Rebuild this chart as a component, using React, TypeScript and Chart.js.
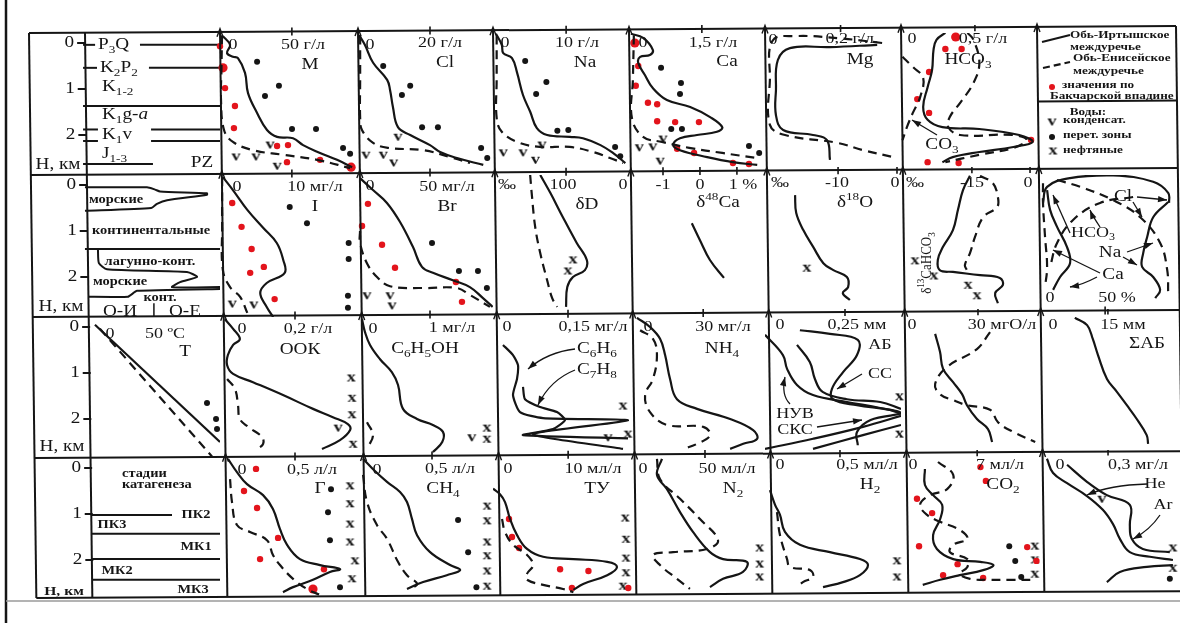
import { useEffect, useRef } from "react";
import { Chart, registerables } from "chart.js";

Chart.register(...registerables);

type Pt = [number, number]; // [quantity, depth below surface, km]

// ---------------- Row 1: mineralisation and major ions ----------------
const mIrtysh: Pt[] = [[2, -0.15], [7, 0.04], [4.9, 0.22], [9, 0.3], [12.5, 0.33], [17.4, 0.65], [19.5, 1.09], [25.8, 1.52], [32.7, 1.89], [39.7, 2.04], [50.8, 2.07], [57.8, 2.22], [69.6, 2.39], [81.4, 2.54], [91.9, 2.7]];
const mEnisei: Pt[] = [[1.4, -0.17], [1, 0.6], [0.7, 1.24], [2.8, 1.89], [9, 2.15], [23, 2.33], [43.8, 2.43], [67.5, 2.54], [90.5, 2.72]];
const mBakchar: Pt[] = [[0, 0.07], [3.5, 0.98], [10.4, 1.37], [9.7, 1.85], [39.7, 2.24], [47.3, 2.22], [46.6, 2.59], [69.6, 2.54]];
const mBakcharBig: Pt[] = [[2.1, 0.54], [91.2, 2.7]];
const mTransit: Pt[] = [[25.8, 0.41], [41, 0.93], [31.3, 1.15], [50.1, 1.87], [66.8, 1.87], [85.6, 2.28], [90.5, 2.41]];
const mCondensate: Pt[] = [[11.1, 2.5], [25, 2.5], [34.8, 2.24], [39.7, 2.7]];

const clIrtysh: Pt[] = [[0.3, -0.17], [1.9, 0.04], [4.2, 0.43], [8.1, 0.8], [8.9, 1.02], [9.7, 1.39], [11.1, 1.83], [14.5, 2.0], [20, 2.22], [22.8, 2.37], [27.5, 2.5], [34.8, 2.65]];
const clEnisei: Pt[] = [[0.6, -0.17], [0.6, 0.8], [0.6, 1.63], [1.1, 1.89], [4.2, 2.17], [8.3, 2.28], [18.1, 2.33], [25.6, 2.48], [31.1, 2.61]];
const clTransit: Pt[] = [[7, 0.5], [12.2, 1.13], [14.5, 0.93], [17.8, 1.83], [22.2, 1.83], [34.2, 2.28], [35.9, 2.5]];
const clCondensate: Pt[] = [[2.2, 2.46], [7, 2.46], [9.9, 2.63], [11.1, 2.07]];

const naIrtysh: Pt[] = [[0.4, -0.2], [1.2, 0.04], [1.4, 0.22], [2.6, 0.33], [3.3, 0.65], [4.1, 1.13], [5.1, 1.5], [6.0, 1.85], [7.4, 2.0], [10.5, 2.04], [12.3, 2.07], [14.7, 2.22], [16.4, 2.39], [18.1, 2.61]];
const naEnisei: Pt[] = [[0.5, -0.17], [0.5, 0.8], [0.5, 1.63], [1.2, 1.93], [3.3, 2.15], [6.4, 2.26], [10.5, 2.26], [13.7, 2.37], [16, 2.5], [17.8, 2.61]];
const naTransit: Pt[] = [[4.4, 0.39], [7.3, 0.85], [5.9, 1.11], [8.8, 1.91], [10.3, 1.89], [16.7, 2.26], [17.4, 2.46]];
const naCondensate: Pt[] = [[1.4, 2.41], [4.1, 2.41], [5.8, 2.57], [6.7, 2.24]];

const caIrtysh: Pt[] = [[0.04, -0.2], [0.29, -0.11], [0.49, 0.15], [0.43, 0.26], [0.23, 0.3], [0.19, 0.43], [0.33, 0.7], [0.49, 0.98], [0.78, 1.24], [1.26, 1.39], [1.67, 1.61], [1.92, 1.83], [1.81, 1.93], [1.4, 2.0], [1.05, 2.07], [0.91, 2.22], [1.05, 2.33], [1.61, 2.48], [2.14, 2.59], [2.64, 2.65]];
const caEnisei: Pt[] = [[0.1, -0.17], [0.08, 0.8], [0.06, 1.63], [0.29, 2.04], [0.68, 2.15], [1.24, 2.28], [1.92, 2.39], [2.62, 2.5]];
const caBakchar: Pt[] = [[0.19, 0.5], [0.14, 0.93], [0.39, 1.3], [0.58, 1.33], [0.58, 1.7], [0.95, 1.72], [1.44, 1.72], [0.99, 2.3], [1.34, 2.39], [2.14, 2.61], [2.47, 2.63]];
const caBakcharBig: Pt[] = [[0.12, 0]];
const caTransit: Pt[] = [[0.66, 0.54], [1.07, 0.87], [1.05, 1.11], [0.87, 1.87], [1.09, 1.87], [2.47, 2.24], [2.68, 2.39]];
const caCondensate: Pt[] = [[0.21, 2.3], [0.49, 2.28], [0.64, 2.59], [0.7, 2.11]];

const mgIrtysh: Pt[] = [[0.297, 0.04], [0.172, 0.09], [0.066, 0.11], [0.034, 0.37], [0.029, 1.02], [0.029, 1.57], [0.048, 1.89], [0.127, 2.0], [0.164, 2.11], [0.172, 2.54]];
const mgEnisei: Pt[] = [[0.31, 0.0], [0.2, -0.1], [0.08, -0.15], [0.02, -0.05], [0.013, 0.8], [0.013, 1.78], [0.053, 2.0], [0.191, 2.17], [0.26, 2.33], [0.339, 2.48]];

const hco3Irtysh: Pt[] = [[0.3, -0.22], [0.24, -0.07], [0.22, 0.15], [0.21, 0.59], [0.18, 0.96], [0.15, 1.39], [0.18, 1.67], [0.28, 1.83], [0.53, 1.87], [0.8, 2.0], [0.89, 2.15], [0.76, 2.26], [0.53, 2.37], [0.35, 2.48], [0.28, 2.59]];
const hco3Enisei: Pt[] = [[0.45, -0.22], [0.49, -0.07], [0.53, 0.43], [0.49, 0.87], [0.4, 1.3], [0.33, 1.61], [0.32, 1.83], [0.4, 2.0], [0.76, 2.0], [0.85, 2.11], [0.76, 2.28], [0.53, 2.43], [0.3, 2.59]];
const co3Enisei: Pt[] = [[0.01, 0.3], [0.08, 0.52], [0.15, 0.76], [0.13, 1.17], [0.08, 1.52], [0.04, 1.83], [0.01, 2.11]];
const hco3Bakchar: Pt[] = [[0.3, 0.13], [0.41, 0.13], [0.19, 0.63], [0.11, 1.22], [0.19, 1.52], [0.88, 2.11], [0.18, 2.59], [0.39, 2.61]];
const hco3BakcharBig: Pt[] = [[0.37, -0.13]];

// ---------------- Row 2: I, Br and isotopes ----------------
const iIrtysh: Pt[] = [[0.4, -0.17], [1.8, 0.11], [3.8, 0.54], [6.0, 0.93], [7.9, 1.26], [8.8, 1.63], [9.0, 1.91], [6.5, 2.13], [5.6, 2.35], [6.5, 2.65], [7.4, 2.87]];
const iEnisei: Pt[] = [[0.3, -0.17], [0.3, 0.9], [0.4, 1.85], [1.4, 2.22], [2.8, 2.43], [3.8, 2.78]];
const iBakchar: Pt[] = [[1.7, 0.39], [3.0, 0.91], [4.4, 1.39], [4.2, 1.91], [6.1, 1.78], [7.6, 2.48]];
const iTransit: Pt[] = [[9.7, 0.48], [12.1, 0.83], [17.9, 1.26], [17.9, 1.61], [17.8, 2.41], [17.8, 2.67]];
const iCondensate: Pt[] = [[1.7, 2.61], [4.7, 2.63]];

const brIrtysh: Pt[] = [[1.4, -0.15], [10.4, 0.11], [20.1, 0.39], [29.1, 0.8], [38.2, 1.35], [44.4, 1.78], [52, 1.91], [65.9, 2.07], [77.7, 2.22], [86.8, 2.46], [93.5, 2.65]];
const brEnisei: Pt[] = [[1.4, 1.0], [1.4, 1.26], [6.2, 1.7], [13.2, 2.0], [22.2, 2.2], [45.1, 2.24], [68.7, 2.24], [77.7, 2.39], [91.6, 2.65]];
const brBakchar: Pt[] = [[6.9, 0.41], [2.8, 0.89], [16.7, 1.3], [25.7, 1.8], [68, 2.11], [72.2, 2.54]];
const brTransit: Pt[] = [[51.4, 1.26], [70.1, 1.87], [83.3, 1.87], [89.5, 2.24]];
const brCondensate: Pt[] = [[6.2, 2.43], [22.2, 2.43], [23.6, 2.65]];

const dDIrtysh: Pt[] = [[-141, -0.22], [-125, 0.17], [-105, 0.7], [-83, 1.26], [-67, 1.63], [-70, 1.85], [-89, 2.0], [-98, 2.22], [-100, 2.65]];
const dDEnisei: Pt[] = [[-157, -0.22], [-154, 0.26], [-149, 0.91], [-141, 1.48], [-130, 2.07], [-122, 2.46], [-114, 2.65]];
const dDOil: Pt[] = [[-89, 1.65], [-97, 1.89]];

const d48CaIrtysh: Pt[] = [[-0.22, 0.83], [0, 1.2], [0.27, 1.63], [0.65, 2.02]];

const d18OIrtysh: Pt[] = [[-17.3, 0.22], [-17.1, 0.61], [-15.9, 0.98], [-14.2, 1.35], [-12.5, 1.7], [-10.8, 1.85], [-8.5, 2.0], [-8.3, 2.22], [-9.2, 2.35], [-8.0, 2.5]];
const d18OOil: Pt[] = [[-15.3, 1.83]];

const d13CIrtysh: Pt[] = [[-15.5, -0.2], [-17.3, 0.11], [-18.6, 0.54], [-19.9, 0.98], [-22.5, 1.35], [-23.8, 1.63], [-23.3, 1.85], [-19.9, 1.89], [-12.9, 1.96], [-7.8, 2.02], [-7.0, 2.17], [-9.0, 2.35], [-8.3, 2.57]];
const d13CEnisei: Pt[] = [[-12.9, -0.2], [-9.6, -0.04], [-8.3, 0.26], [-8.5, 0.48], [-12.1, 0.7], [-14.2, 1.13], [-15.5, 1.48], [-16.8, 1.74], [-16.3, 1.85]];
const d13COil: Pt[] = [[-29.7, 1.67], [-24.8, 2.0], [-16, 2.2], [-13.7, 2.43]];

// ion shares, % eq
const ionIrtyshA: Pt[] = [[1.7, 0.11], [4.2, 0.54], [10, 0.91], [18.3, 1.35], [20.8, 1.7], [12.5, 2.0], [6.7, 2.28]];
const ionIrtyshB: Pt[] = [[-1.7, 0.39], [1.7, 0.04], [20.8, -0.15], [56.7, -0.21], [90, -0.07], [102.5, 0.17], [103.3, 0.39]];
const ionIrtyshC: Pt[] = [[102.5, 0.37], [90, 0.7], [85, 1.13], [81.7, 1.48], [80.8, 1.78], [90, 2.0], [95.8, 2.28], [91.7, 2.46]];
const ionEniseiA: Pt[] = [[-1.7, -0.04], [-1.7, 0.39], [0, 1.13], [1.7, 1.78], [0, 2.22]];
const ionEniseiB: Pt[] = [[10, -0.11], [29.2, 0.04], [56.7, 0.33], [79.2, 0.7], [95.8, 1.26], [101.7, 1.85], [102.5, 2.35]];
const ionEniseiC: Pt[] = [[73.3, 0.26], [45.8, 0.39], [23.3, 0.76], [10, 1.26], [4.2, 1.78]];

// ---------------- Row 3: temperature, organics, bitumoids ----------------
const tIrtysh: Pt[] = [[-1, -0.05], [100, 2.5]];
const tEnisei: Pt[] = [[3, 0.04], [94, 2.83]];
const tTransit: Pt[] = [[89.5, 1.65], [96.8, 2.0], [97.6, 2.22]];

const ookIrtysh: Pt[] = [[0.013, -0.17], [0.035, 0.04], [0.053, 0.26], [0.035, 0.39], [0.021, 0.61], [0.019, 0.83], [0.035, 1.02], [0.088, 1.2], [0.168, 1.48], [0.248, 1.78], [0.301, 1.96], [0.341, 2.11], [0.347, 2.24], [0.32, 2.46], [0.272, 2.65]];
const ookEnisei: Pt[] = [[0.019, 1.13], [0.04, 1.35], [0.048, 1.7], [0.053, 2.0], [0.075, 2.17], [0.112, 2.39], [0.115, 2.54], [0.101, 2.65]];
const ookOil: Pt[] = [[0.35, 1.13], [0.352, 1.57], [0.352, 1.93], [0.355, 2.57]];
const ookCondensate: Pt[] = [[0.315, 2.22]];

const phenolIrtysh: Pt[] = [[0.056, -0.17], [0.097, 0.11], [0.167, 0.39], [0.306, 0.7], [0.47, 0.98], [0.556, 1.26], [0.625, 1.78], [0.82, 2.0], [1.04, 2.13], [1.18, 2.28], [1.17, 2.5], [1.04, 2.72]];
const phenolEnisei: Pt[] = [[0.125, 2.07], [0.208, 2.35], [0.139, 2.61]];
const phenolCondensate: Pt[] = [[1.58, 2.43]];
const phenolOil: Pt[] = [[1.79, 2.22], [1.79, 2.46]];

const benzene: Pt[] = [[0.02, 0.39], [0.04, 0.61], [0.05, 0.83], [0.048, 1.13], [0.04, 1.48], [0.054, 1.85], [0.1, 1.98], [0.27, 2.03], [0.08, 2.33], [0.26, 2.65]];
const toluene: Pt[] = [[0.06, 1.3], [0.064, 1.57], [0.094, 1.74], [0.128, 1.85], [0.144, 2.02], [0.12, 2.22], [0.06, 2.35], [0.27, 2.42]];
const aromOil: Pt[] = [[0.26, 1.74], [0.27, 2.35]];
const aromCondensate: Pt[] = [[0.23, 2.43]];

const nh4Irtysh: Pt[] = [[3.2, -0.2], [8.5, 0], [12.6, 0.26], [14.6, 0.61], [16.6, 1.13], [19.4, 1.57], [27.5, 1.78], [40.9, 2.0], [50.2, 2.24], [51.8, 2.43], [46.2, 2.54], [40.9, 2.65]];
const nh4Enisei: Pt[] = [[4.5, 0.07], [9.7, 0.26], [11.3, 0.61], [9.7, 1.13], [6.5, 1.48], [8.5, 1.85], [15.4, 2.13], [30, 2.17], [32.8, 2.35], [27.5, 2.54], [21.9, 2.65]];

// bitumoid fractions, mm
const abTotal: Pt[] = [[0.109, 0.07], [0.203, 0.15], [0.29, 0.28], [0.2875, 0.61], [0.244, 0.98], [0.209, 1.35], [0.2125, 1.57], [0.2875, 1.7], [0.39, 1.8], [0.425, 1.89]];
const abCC: Pt[] = [[0.1, 0.39], [0.14, 0.76], [0.156, 1.13], [0.18, 1.41], [0.256, 1.57], [0.36, 1.63], [0.425, 1.78]];
const abNUV: Pt[] = [[0, 0.17], [0.056, 0.61], [0.069, 0.91], [0.1, 1.26], [0.15, 1.48], [0.256, 1.63], [0.36, 1.76], [0.425, 1.87], [0.33, 2.02], [0.2875, 2.28], [0.29, 2.57]];
const abSKS: Pt[] = [[0, 2.65], [0.15, 2.43], [0.306, 2.17], [0.425, 1.93]];
const abLower: Pt[] = [[0.15, 2.65], [0.306, 2.35], [0.425, 2.13]];
const abOil: Pt[] = [[0.42, 1.54], [0.42, 2.35]];

const poIrtysh: Pt[] = [[13.3, 0.15], [15.2, 0.54], [16.4, 0.91], [20.3, 1.2], [23.8, 1.46], [25.7, 1.7], [29.6, 2.0], [33.9, 2.22], [35.5, 2.5]];
const poEnisei: Pt[] = [[34.7, 0.11], [29.6, 0.48], [17.9, 0.87], [13.3, 1.24], [15.2, 1.46], [20.3, 1.59], [25.7, 1.7], [34.7, 1.8], [37.8, 2.07], [43.7, 2.28], [52.3, 2.5]];

const sumAB: Pt[] = [[8.0, -0.2], [10.6, -0.04], [11.8, 0.26], [12.9, 0.61], [14.8, 1.13], [16.9, 1.41], [19, 1.7], [21.1, 2.0], [23.2, 2.35], [23.5, 2.54]];

// ---------------- Row 4: dissolved gases ----------------
const gIrtysh: Pt[] = [[0.053, -0.2], [0.113, 0.09], [0.18, 0.35], [0.287, 0.59], [0.353, 0.89], [0.4, 1.33], [0.447, 1.67], [0.533, 1.98], [0.667, 2.11], [0.8, 2.2], [0.733, 2.26], [0.62, 2.43], [0.487, 2.59], [0.42, 2.7]];
const gEnisei: Pt[] = [[0.067, 0.24], [0.08, 0.74], [0.113, 1.24], [0.2, 1.39], [0.313, 1.57], [0.353, 1.89], [0.4, 2.11], [0.487, 2.41], [0.58, 2.63], [0.667, 2.76]];
const gBakchar: Pt[] = [[0.24, 0.02], [0.16, 0.5], [0.247, 0.87], [0.387, 1.52], [0.267, 1.98], [0.693, 2.2]];
const gBakcharBig: Pt[] = [[0.62, 2.63]];
const gTransit: Pt[] = [[0.74, 0.46], [0.72, 0.96], [0.733, 1.57], [0.8, 2.59]];
const gOil: Pt[] = [[0.867, 0.41], [0.867, 0.8], [0.867, 1.24], [0.867, 1.63], [0.9, 2.04], [0.88, 2.43]];

const ch4Irtysh: Pt[] = [[0.034, -0.2], [0.1, 0.02], [0.196, 0.3], [0.284, 0.52], [0.331, 0.74], [0.365, 1.11], [0.399, 1.46], [0.487, 1.83], [0.622, 2.11], [0.69, 2.22], [0.6, 2.33], [0.44, 2.48], [0.331, 2.63]];
const ch4Enisei: Pt[] = [[0.034, 0.15], [0.061, 0.74], [0.128, 1.24], [0.196, 1.54], [0.27, 2.04], [0.331, 2.33], [0.399, 2.52], [0.35, 2.63]];
const ch4Transit: Pt[] = [[0.676, 1.13], [0.744, 1.83], [0.8, 2.59]];
const ch4Oil: Pt[] = [[0.872, 0.85], [0.872, 1.17], [0.872, 1.63], [0.872, 1.93], [0.872, 2.26], [0.872, 2.59]];

const tuIrtysh: Pt[] = [[0, 0.45], [0.93, 0.57], [1.6, 0.74], [2.27, 1.11], [3.2, 1.46], [4.53, 1.76], [6.67, 1.93], [10.7, 1.98], [15.2, 2.04], [16.5, 2.15], [15.2, 2.33], [12, 2.52], [10.7, 2.65]];
const tuEnisei: Pt[] = [[1.2, 1.11], [1.6, 1.39], [2.67, 1.67], [4.53, 1.89], [5.33, 2.11], [4.53, 2.3], [4.53, 2.43], [6.67, 2.54], [9.33, 2.63], [10.7, 2.7]];
const tuBakchar: Pt[] = [[2.13, 1.11], [2.53, 1.5], [3.47, 1.74], [8.93, 2.2], [12.7, 2.24], [10.5, 2.61], [18.0, 2.61]];
const tuOil: Pt[] = [[17.6, 1.11], [17.7, 1.57], [17.7, 1.98], [17.7, 2.3], [17.3, 2.59]];

const n2Irtysh: Pt[] = [[21.7, -0.2], [18.4, 0.15], [25, 0.46], [33.6, 0.96], [42.1, 1.39], [53.3, 1.83], [61.9, 1.98], [77.6, 2.04], [75, 2.26], [61.9, 2.41], [53.3, 2.59]];
const n2Enisei: Pt[] = [[18.4, -0.2], [20.4, 0.24], [33.6, 0.67], [46.7, 1.11], [58.6, 1.57], [51.3, 1.76], [29, 1.83], [15.8, 1.89], [20.4, 2.11], [31.6, 2.41], [40.1, 2.63]];
const n2Oil: Pt[] = [[86, 1.76], [86, 2.11], [86, 2.39]];

const h2Irtysh: Pt[] = [[0.033, 0.48], [0.067, 0.8], [0.1, 1.02], [0.133, 1.39], [0.233, 1.67], [0.433, 1.83], [0.633, 1.98], [0.687, 2.11], [0.633, 2.33], [0.52, 2.48], [0.387, 2.59]];
const h2Enisei: Pt[] = [[0.08, 0.96], [0.1, 1.46], [0.147, 1.98], [0.167, 2.15], [0.3, 2.22], [0.32, 2.37], [0.253, 2.48], [0.213, 2.59]];
const h2Oil: Pt[] = [[0.88, 2.04], [0.88, 2.39]];

const co2Irtysh: Pt[] = [[2.2, 0.02], [2.2, 0.37], [2.95, 0.59], [3.78, 0.8], [3.6, 1.11], [2.95, 1.46], [3.3, 1.76], [4.8, 1.98], [7.3, 2.04], [8.5, 2.11], [7.55, 2.22], [5.4, 2.33], [3.6, 2.43], [2.0, 2.54]];
const co2Enisei: Pt[] = [[3.4, -0.13], [4.8, 0.15], [4.24, 0.46], [2.67, 0.59], [1.75, 0.8], [2.4, 1.02], [3.6, 1.17], [5.43, 1.35], [6.1, 1.54], [4.8, 1.67], [4.5, 1.83], [6.1, 1.98], [6.1, 2.15], [5.43, 2.3], [6.35, 2.41], [7.9, 2.43], [10.3, 2.43], [12.2, 2.43]];
const co2Bakchar: Pt[] = [[7.3, -0.02], [7.8, 0.28], [1.47, 0.67], [2.86, 0.98], [1.66, 1.7], [5.2, 2.09], [3.87, 2.33], [7.55, 2.39], [11.6, 1.72], [12.45, 2.02]];
const co2Transit: Pt[] = [[9.95, 1.7], [10.5, 2.02], [11.05, 2.37]];
const co2Oil: Pt[] = [[12.3, 1.72], [12.3, 2.02], [12.3, 2.33]];

const heProfile: Pt[] = [[0.042, -0.2], [0.068, 0.11], [0.127, 0.33], [0.211, 0.61], [0.278, 0.91], [0.321, 1.22], [0.35, 1.54], [0.392, 1.83], [0.477, 1.93], [0.574, 2.0]];
const arProfile: Pt[] = [[0.127, -0.07], [0.211, 0.3], [0.295, 0.59], [0.392, 0.8], [0.392, 1.24], [0.4, 1.54], [0.447, 1.76], [0.561, 1.83]];
const heLower: Pt[] = [[0.295, 2.48], [0.35, 2.26], [0.464, 2.15], [0.574, 2.11]];
const heCondensate: Pt[] = [[0.274, 0.7]];
const heOil: Pt[] = [[0.574, 1.76], [0.574, 2.2]];
const heTransit: Pt[] = [[0.561, 2.41]];

// ---------------- Left column: section, facies, catagenesis ----------------
const stratTops = [0.04, 0.54, 1.37, 1.88, 2.13, 2.63];
const stratNames = ["P_3Q", "K_2P_2", "K_{1-2}", "K_1g-~a", "K_1v", "J_{1-3}", "PZ"];
// outlines as [share of column width, depth]
const faciesMarineUpper: Pt[] = [[0.293, 0.05], [0.618, 0.05], [0.66, 0.1], [0.686, 0.14], [0.932, 0.18], [0.932, 0.21], [0.723, 0.33], [0.67, 0.41], [0.64, 0.5], [0.293, 0.56]];
const faciesContBase: Pt[] = [[0.293, 1.39], [1, 1.39]];
const faciesLagoon: Pt[] = [[0.361, 1.41], [0.366, 1.7], [0.408, 1.83], [0.827, 1.89], [0.88, 2.0], [0.791, 2.11], [0.749, 2.22], [1, 2.22]];
const faciesMarineLower: Pt[] = [[0.309, 2.43], [0.518, 2.43], [0.565, 2.3], [1, 2.26]];
const regionDivide: Pt[] = [[0.654, 2.57], [0.654, 2.9]];
const stageTops = [1.02, 1.43, 1.98, 2.43];

// ---------------- drawing ----------------
const INK = "#151515";
const RED = "#e3141c";
const SERIF = '"Liberation Serif", "DejaVu Serif", "Times New Roman", serif';
const SX = 1.2; // lettering is set a little wide
const PAD = 8;
const KM = 46; // px per km of depth
const ORG_X = 29;
const ORG_Y = 33;
const SKEW_X = 0.013;
const SKEW_Y = -0.006;

const COLS = [220, 358, 493, 629, 765, 901, 1037, 1176];
const ROWS = [33, 175, 317, 458, 598];

interface Curve { pts: Pt[]; dash?: boolean; w?: number; k?: number }
interface Txt { dx: number; dy: number; s: string; size?: number; bold?: boolean; align?: "left" | "center" | "right"; rot?: boolean }
interface PanelDef {
  x: number; y: number; w: number; h: number;
  xr: [number, number];
  curves?: Curve[];
  red?: Pt[]; redBig?: Pt[]; dots?: Pt[]; vs?: Pt[]; xs?: Pt[];
  ticks?: number[]; bottomTicks?: number[];
  texts?: Txt[];
  arrows?: number[][];
  axisX?: number;
  legend?: boolean;
}

const cell = (r: number, c: number) => ({ x: COLS[c], y: ROWS[r], w: COLS[c + 1] - COLS[c], h: ROWS[r + 1] - ROWS[r] });
const T = (dx: number, dy: number, s: string, size = 15, extra: Partial<Txt> = {}): Txt => ({ dx, dy, s, size, ...extra });
const B = (dx: number, dy: number, s: string, size = 11, align: "left" | "center" = "left"): Txt => ({ dx, dy, s, size, bold: true, align });
const solid = (pts: Pt[]): Curve => ({ pts });
const dashed = (pts: Pt[]): Curve => ({ pts, dash: true });

const stratSpans = [[[0.283, 0.346], [0.581, 1]], [[0.283, 0.356], [0.628, 1]], [[0.283, 1]], [[0.283, 0.361], [0.639, 1]], [[0.283, 0.361], [0.639, 1]], [[0.283, 0.649]]];
const stratNamePos = [[69, 12], [71, 35], [73, 54], [73, 82], [73, 102], [73, 121], [173, 130]];
const stratCurves: Curve[] = stratTops.flatMap((d, i) => stratSpans[i].map(([a, b]) => ({ pts: [[a, d], [b, d]] as Pt[], k: 0, w: 2 })));
const stageCurves: Curve[] = stageTops.map((d, i) => ({ pts: [[0, d], [i === 0 ? 0.625 : 1.05, d]] as Pt[], k: 0, w: 2 }));

const panels: PanelDef[] = [
  // left column
  {
    x: 29, y: 33, w: 191, h: 142, xr: [0, 1], axisX: 56, curves: stratCurves,
    texts: [...stratNames.map((s, i) => T(stratNamePos[i][0], stratNamePos[i][1], s, 16, { align: i === 6 ? "center" : "left" })), T(29, 132, "Н, км", 16)],
  },
  {
    x: 29, y: 175, w: 191, h: 142, xr: [0, 1], axisX: 58,
    curves: [{ pts: faciesMarineUpper, k: 0.2, w: 2 }, { pts: faciesContBase, k: 0, w: 2 }, { pts: faciesLagoon, k: 0.2, w: 2 }, { pts: faciesMarineLower, k: 0.1, w: 2 }, { pts: regionDivide, k: 0, w: 1.5 }],
    texts: [B(87, 25, "морские", 12, "center"), B(122, 56, "континентальные", 12, "center"), B(121, 87, "лагунно-конт.", 12, "center"), B(91, 107, "морские", 12, "center"), B(131, 123, "конт.", 12, "center"), T(32, 132, "Н, км", 16), T(91, 137, "О-И", 16), T(156, 137, "О-Е", 16)],
  },
  { x: 29, y: 317, w: 61, h: 141, xr: [0, 1], axisX: 61, texts: [T(33, 130, "Н, км", 16)] },
  { x: 29, y: 458, w: 63, h: 140, xr: [0, 1], axisX: 63, texts: [B(35, 134, "Н, км", 13, "center")] },
  {
    x: 92, y: 458, w: 128, h: 140, xr: [0, 1], curves: stageCurves,
    texts: [B(30, 16, "стадии", 12), B(30, 27, "катагенеза", 12), B(104, 57, "ПК2", 12, "center"), B(20, 67, "ПК3", 12, "center"), B(104, 89, "МК1", 12, "center"), B(25, 113, "МК2", 12, "center"), B(101, 132, "МК3", 12, "center")],
  },
  {
    x: 90, y: 317, w: 130, h: 141, xr: [-5, 100], curves: [{ pts: tIrtysh, k: 0 }, { pts: tEnisei, dash: true, k: 0 }], dots: tTransit,
    texts: [T(20, 17, "0"), T(75, 17, "50 ºC"), T(95, 35, "T", 16)],
  },

  // row 1
  { ...cell(0, 0), xr: [0, 96], ticks: [50], curves: [solid(mIrtysh), dashed(mEnisei)], red: mBakchar, redBig: mBakcharBig, dots: mTransit, vs: mCondensate, texts: [T(13, 12, "0"), T(83, 12, "50 г/л"), T(90, 32, "M", 16)] },
  { ...cell(0, 1), xr: [0, 37.5], ticks: [20], curves: [solid(clIrtysh), dashed(clEnisei)], dots: clTransit, vs: clCondensate, texts: [T(12, 12, "0"), T(82, 10, "20 г/л"), T(87, 30, "Cl", 16)] },
  { ...cell(0, 2), xr: [0, 18.6], ticks: [10], curves: [solid(naIrtysh), dashed(naEnisei)], dots: naTransit, vs: naCondensate, texts: [T(12, 10, "0"), T(84, 10, "10 г/л"), T(92, 30, "Na", 16)] },
  { ...cell(0, 3), xr: [0, 2.8], ticks: [1.5], curves: [solid(caIrtysh), dashed(caEnisei)], red: caBakchar, redBig: caBakcharBig, dots: caTransit, vs: caCondensate, texts: [T(14, 10, "0"), T(84, 10, "1,5 г/л"), T(98, 29, "Ca", 16)] },
  { ...cell(0, 4), xr: [0, 0.36], ticks: [0.2], curves: [solid(mgIrtysh), dashed(mgEnisei)], texts: [T(8, 7, "0"), T(87, 6, "0,2 г/л."), T(95, 27, "Mg", 16)] },
  {
    ...cell(0, 5), xr: [0, 0.92], ticks: [0.5], curves: [solid(hco3Irtysh), dashed(hco3Enisei), dashed(co3Enisei)], red: hco3Bakchar, redBig: hco3BakcharBig,
    texts: [T(11, 6, "0"), T(82, 6, "0,5 г/л"), T(67, 27, "HCO_3", 16), T(41, 112, "CO_3", 16)], arrows: [[36, 102, 11, 87]],
  },
  {
    ...cell(0, 6), xr: [0, 1], legend: true,
    texts: [B(33, 2, "Обь-Иртышское"), B(33, 14, "междуречье"), B(36, 25, "Обь-Енисейское"), B(36, 38, "междуречье"), B(25, 52, "значения по"), B(13, 63, "Бакчарской впадине"), B(51, 79, "Воды:", 11, "center"), B(26, 87, "конденсат."), B(26, 102, "перет. зоны"), B(26, 117, "нефтяные")],
  },

  // row 2
  { ...cell(1, 0), xr: [0, 19.2], ticks: [10], curves: [solid(iIrtysh), dashed(iEnisei)], red: iBakchar, dots: iTransit, vs: iCondensate, texts: [T(17, 12, "0"), T(95, 12, "10 мг/л"), T(95, 32, "I", 16)] },
  { ...cell(1, 1), xr: [0, 93.75], ticks: [50], curves: [solid(brIrtysh), dashed(brEnisei)], red: brBakchar, dots: brTransit, vs: brCondensate, texts: [T(12, 11, "0"), T(89, 12, "50 мг/л"), T(89, 32, "Br", 16)] },
  { ...cell(1, 2), xr: [-216, 0], ticks: [-100], curves: [solid(dDIrtysh), dashed(dDEnisei)], xs: dDOil, texts: [T(14, 10, "‰"), T(70, 10, "100"), T(130, 10, "0"), T(94, 30, "δD", 16)] },
  { ...cell(1, 3), xr: [-1.92, 1.76], ticks: [-1, 0, 1], curves: [solid(d48CaIrtysh)], texts: [T(34, 10, "-1"), T(71, 10, "0"), T(114, 10, "1 %"), T(89, 28, "δ^{48}Ca", 16)] },
  { ...cell(1, 4), xr: [-22.4, 0.68], ticks: [-10, 0], curves: [solid(d18OIrtysh)], xs: d18OOil, texts: [T(15, 8, "‰"), T(72, 8, "-10"), T(130, 8, "0"), T(90, 28, "δ^{18}O", 16)] },
  { ...cell(1, 5), xr: [-33.3, 1.8], ticks: [-15, 0], curves: [solid(d13CIrtysh), dashed(d13CEnisei)], xs: d13COil, texts: [T(14, 8, "‰"), T(71, 8, "-15"), T(127, 8, "0"), T(26, 88, "δ^{13}CaHCO_3", 13, { rot: true })] },
  {
    ...cell(1, 6), xr: [-6.7, 109], bottomTicks: [50],
    curves: [solid(ionIrtyshA), solid(ionIrtyshB), solid(ionIrtyshC), dashed(ionEniseiA), dashed(ionEniseiB), dashed(ionEniseiC)],
    texts: [T(13, 123, "0"), T(80, 123, "50 %"), T(86, 22, "Cl", 16), T(56, 58, "HCO_3", 15), T(73, 78, "Na", 16), T(76, 100, "Ca", 16)],
    arrows: [[100, 22, 130, 25], [96, 27, 105, 42], [63, 52, 55, 40, 53, 35], [33, 58, 25, 40, 16, 20], [90, 77, 116, 68], [86, 82, 100, 90], [63, 98, 16, 75], [60, 102, 45, 110, 33, 112]],
  },

  // row 3
  { ...cell(2, 0), xr: [0, 0.368], ticks: [0.2], curves: [solid(ookIrtysh), dashed(ookEnisei)], xs: ookOil, vs: ookCondensate, texts: [T(22, 12, "0"), T(88, 12, "0,2 г/л"), T(80, 33, "ООК", 16)] },
  { ...cell(2, 1), xr: [0, 1.875], ticks: [1], curves: [solid(phenolIrtysh), dashed(phenolEnisei)], vs: phenolCondensate, xs: phenolOil, texts: [T(15, 12, "0"), T(94, 11, "1 мг/л"), T(67, 32, "C_6H_5OH", 16)] },
  {
    ...cell(2, 2), xr: [0, 0.272], ticks: [0.15], curves: [{ pts: benzene, k: 0.2 }, { pts: toluene, k: 0.2 }], xs: aromOil, vs: aromCondensate,
    texts: [T(14, 10, "0"), T(100, 10, "0,15 мг/л"), T(104, 32, "C_6H_6", 16), T(104, 53, "C_7H_8", 16)], arrows: [[82, 32, 55, 35, 35, 52], [82, 53, 57, 63, 45, 88]],
  },
  { ...cell(2, 3), xr: [0, 55], ticks: [30], curves: [solid(nh4Irtysh), dashed(nh4Enisei)], texts: [T(19, 10, "0"), T(94, 10, "30 мг/л"), T(93, 32, "NH_4", 16)] },
  {
    ...cell(2, 4), xr: [0, 0.425], ticks: [0.25], curves: [solid(abTotal), solid(abCC), solid(abNUV), solid(abSKS), solid(abLower)], xs: abOil,
    texts: [T(15, 8, "0"), T(92, 8, "0,25 мм"), T(115, 28, "АБ"), T(115, 57, "СС"), T(30, 97, "НУВ"), T(30, 113, "СКС")],
    arrows: [[97, 57, 72, 72], [25, 87, 16, 78, 20, 60], [52, 110, 97, 103]],
  },
  { ...cell(2, 5), xr: [0, 53], ticks: [30], curves: [solid(poIrtysh), dashed(poEnisei)], texts: [T(11, 8, "0"), T(101, 8, "30 мгО/л")] },
  { ...cell(2, 6), xr: [0, 29.4], ticks: [15], curves: [solid(sumAB)], texts: [T(16, 8, "0"), T(86, 8, "15 мм"), T(110, 27, "ΣАБ", 16)] },

  // row 4
  { ...cell(3, 0), xr: [0, 0.92], ticks: [0.5], curves: [solid(gIrtysh), dashed(gEnisei)], red: gBakchar, redBig: gBakcharBig, dots: gTransit, xs: gOil, texts: [T(22, 12, "0"), T(92, 12, "0,5 л/л"), T(100, 31, "Г", 16)] },
  { ...cell(3, 1), xr: [0, 0.912], ticks: [0.5], curves: [solid(ch4Irtysh), dashed(ch4Enisei)], dots: ch4Transit, xs: ch4Oil, texts: [T(19, 12, "0"), T(92, 11, "0,5 л/л"), T(85, 31, "CH_4", 16)] },
  { ...cell(3, 2), xr: [0, 18.1], ticks: [10], curves: [solid(tuIrtysh), dashed(tuEnisei)], red: tuBakchar, xs: tuOil, texts: [T(15, 11, "0"), T(100, 11, "10 мл/л"), T(104, 31, "ТУ", 16)] },
  { ...cell(3, 3), xr: [0, 89.5], ticks: [50], curves: [solid(n2Irtysh), dashed(n2Enisei)], xs: n2Oil, texts: [T(14, 11, "0"), T(98, 11, "50 мл/л"), T(104, 31, "N_2", 16)] },
  { ...cell(3, 4), xr: [0, 0.907], ticks: [0.5], curves: [solid(h2Irtysh), dashed(h2Enisei)], xs: h2Oil, texts: [T(15, 7, "0"), T(102, 7, "0,5 мл/л"), T(105, 27, "H_2", 16)] },
  { ...cell(3, 5), xr: [0, 12.5], ticks: [7], curves: [solid(co2Irtysh), dashed(co2Enisei)], red: co2Bakchar, dots: co2Transit, xs: co2Oil, texts: [T(12, 7, "0"), T(99, 7, "7 мл/л"), T(102, 27, "CO_2", 16)] },
  {
    ...cell(3, 6), xr: [0, 0.587], ticks: [0.3], curves: [solid(heProfile), solid(arProfile), solid(heLower)], vs: heCondensate, xs: heOil, dots: heTransit,
    texts: [T(23, 7, "0"), T(101, 7, "0,3 мг/л"), T(118, 26, "He"), T(126, 47, "Ar")], arrows: [[110, 26, 73, 27, 50, 37], [123, 57, 113, 72, 96, 81]],
  },
];

// ---------------- helpers ----------------
type Seg = { t: string; k: number }; // 0 plain, 1 sub, 2 sup, 3 italic
function parseRich(s: string): Seg[] {
  const out: Seg[] = [];
  let buf = "";
  for (let i = 0; i < s.length; i++) {
    const c = s[i];
    if (c === "_" || c === "^" || c === "~") {
      if (buf) { out.push({ t: buf, k: 0 }); buf = ""; }
      let t = "";
      if (s[i + 1] === "{") { const j = s.indexOf("}", i); t = s.slice(i + 2, j); i = j; } else { t = s[i + 1]; i++; }
      out.push({ t, k: c === "_" ? 1 : c === "^" ? 2 : 3 });
    } else buf += c;
  }
  if (buf) out.push({ t: buf, k: 0 });
  return out;
}

function drawRich(ctx: CanvasRenderingContext2D, s: string, x: number, y: number, size: number, bold: boolean, align: string, rot: boolean) {
  const segs = parseRich(s);
  const font = (k: number) => `${k === 3 ? "italic " : ""}${bold ? "bold " : ""}${k === 1 || k === 2 ? Math.round(size * 0.68) : size}px ${SERIF}`;
  const widths: number[] = [];
  let total = 0;
  for (const g of segs) { ctx.font = font(g.k); const w = ctx.measureText(g.t).width; widths.push(w); total += w; }
  let cx = align === "center" ? -total / 2 : align === "right" ? -total : 0;
  ctx.save();
  ctx.translate(x, y);
  if (rot) { ctx.rotate(-Math.PI / 2); ctx.scale(1, SX); } else ctx.scale(SX, 1);
  ctx.textAlign = "left";
  ctx.textBaseline = "middle";
  ctx.fillStyle = INK;
  segs.forEach((g, i) => {
    ctx.font = font(g.k);
    const dy = g.k === 1 ? size * 0.3 : g.k === 2 ? -size * 0.36 : 0;
    ctx.fillText(g.t, cx, dy);
    cx += widths[i];
  });
  ctx.restore();
}

const glyphCache: Record<string, HTMLCanvasElement> = {};
function glyph(ch: string, size: number): HTMLCanvasElement {
  const key = ch + size;
  if (glyphCache[key]) return glyphCache[key];
  const c = document.createElement("canvas");
  c.width = Math.ceil(size * 1.0);
  c.height = Math.ceil(size * 1.0);
  const g = c.getContext("2d")!;
  g.fillStyle = INK;
  g.font = `bold ${size}px ${SERIF}`;
  g.textAlign = "center";
  g.textBaseline = "middle";
  g.translate(c.width / 2, c.height / 2);
  g.scale(SX, 1);
  g.fillText(ch, 0, -size * 0.11);
  glyphCache[key] = c;
  return c;
}

function drawArrow(ctx: CanvasRenderingContext2D, p: number[], ox: number, oy: number) {
  const n = p.length;
  const ex = ox + p[n - 2], ey = oy + p[n - 1];
  const bx = ox + p[n - 4], by = oy + p[n - 3];
  ctx.beginPath();
  ctx.moveTo(ox + p[0], oy + p[1]);
  if (n === 6) ctx.quadraticCurveTo(ox + p[2], oy + p[3], ex, ey); else ctx.lineTo(ex, ey);
  ctx.stroke();
  const a = Math.atan2(ey - by, ex - bx);
  const L = 9, W = 3.2;
  ctx.beginPath();
  ctx.moveTo(ex, ey);
  ctx.lineTo(ex - L * Math.cos(a) + W * Math.sin(a), ey - L * Math.sin(a) - W * Math.cos(a));
  ctx.lineTo(ex - L * Math.cos(a) - W * Math.sin(a), ey - L * Math.sin(a) + W * Math.cos(a));
  ctx.closePath();
  ctx.fill();
}

function drawLegendKeys(ctx: CanvasRenderingContext2D, ox: number, oy: number) {
  ctx.lineWidth = 2.2;
  ctx.beginPath(); ctx.moveTo(ox + 5, oy + 9); ctx.lineTo(ox + 33, oy + 2); ctx.stroke();
  ctx.setLineDash([7, 4]);
  ctx.beginPath(); ctx.moveTo(ox + 6, oy + 35); ctx.lineTo(ox + 33, oy + 29); ctx.stroke();
  ctx.setLineDash([]);
  ctx.fillStyle = RED;
  ctx.beginPath(); ctx.arc(ox + 15, oy + 54, 3, 0, Math.PI * 2); ctx.fill();
  ctx.fillStyle = INK;
  const v = glyph("v", 15);
  ctx.drawImage(v, ox + 15 - v.width / 2, oy + 90 - v.height / 2);
  ctx.beginPath(); ctx.arc(ox + 15, oy + 104, 3, 0, Math.PI * 2); ctx.fill();
  const x = glyph("x", 15);
  ctx.drawImage(x, ox + 16 - x.width / 2, oy + 119 - x.height / 2);
}

function decor(def: PanelDef) {
  return {
    id: "decor",
    afterDatasetsDraw(chart: any) {
      const ctx: CanvasRenderingContext2D = chart.ctx;
      const a = chart.chartArea;
      const sx = chart.scales.x, sy = chart.scales.y;
      const drift = (px: number) => SKEW_Y * (def.x + (px - a.left) - ORG_X);
      ctx.save();
      ctx.strokeStyle = INK;
      ctx.fillStyle = INK;
      ctx.lineWidth = 1.6;
      for (const v of def.ticks ?? []) {
        const px = sx.getPixelForValue(v);
        const py = a.top + drift(px) - drift(a.left) + SKEW_Y * (def.x - ORG_X);
        ctx.beginPath(); ctx.moveTo(px, py - 4); ctx.lineTo(px, py + 4); ctx.stroke();
      }
      for (const v of def.bottomTicks ?? []) {
        const px = sx.getPixelForValue(v);
        const py = a.bottom + drift(px);
        ctx.beginPath(); ctx.moveTo(px, py - 4); ctx.lineTo(px, py + 4); ctx.stroke();
      }
      if (def.axisX !== undefined) {
        ctx.lineWidth = 2;
        for (const k of [0, 1, 2]) {
          const py = sy.getPixelForValue(k);
          const x1 = a.left + def.axisX + SKEW_X * (py - ORG_Y + def.y - a.top) - SKEW_X * (def.y - ORG_Y);
          ctx.beginPath(); ctx.moveTo(x1 - 8, py); ctx.lineTo(x1, py); ctx.stroke();
          drawRich(ctx, String(k), x1 - 11, py, 16, false, "right", false);
        }
      }
      ctx.lineWidth = 1.3;
      for (const ar of def.arrows ?? []) drawArrow(ctx, ar, a.left, a.top);
      for (const t of def.texts ?? []) drawRich(ctx, t.s, a.left + t.dx, a.top + t.dy, t.size ?? 15, !!t.bold, t.align ?? "center", !!t.rot);
      if (def.legend) drawLegendKeys(ctx, a.left, a.top);
      ctx.restore();
    },
  };
}

function PanelChart({ def }: { def: PanelDef }) {
  const ref = useRef<HTMLCanvasElement>(null);
  useEffect(() => {
    const canvas = ref.current;
    if (!canvas) return;
    const toXY = (pts: Pt[]) => pts.map(([x, y]) => ({ x, y }));
    const datasets: any[] = [];
    for (const c of def.curves ?? []) {
      datasets.push({
        data: toXY(c.pts), showLine: true, borderColor: INK, borderWidth: c.w ?? 2.2,
        borderDash: c.dash ? [9, 6] : [], pointRadius: 0, tension: c.k ?? 0.4, fill: false,
      });
    }
    const pointSet = (pts: Pt[] | undefined, opts: any) => {
      if (pts && pts.length) datasets.push({ data: toXY(pts), showLine: false, clip: PAD, pointBorderWidth: 0, ...opts });
    };
    pointSet(def.red, { pointRadius: 3.2, pointBackgroundColor: RED, pointBorderColor: RED });
    pointSet(def.redBig, { pointRadius: 4.6, pointBackgroundColor: RED, pointBorderColor: RED });
    pointSet(def.dots, { pointRadius: 3, pointBackgroundColor: INK, pointBorderColor: INK });
    pointSet(def.vs, { pointRadius: 5, pointStyle: glyph("v", 15) });
    pointSet(def.xs, { pointRadius: 5, pointStyle: glyph("x", 15) });

    const chart = new Chart(canvas, {
      type: "scatter",
      data: { datasets },
      options: {
        animation: false,
        responsive: false,
        events: [],
        layout: { padding: PAD },
        plugins: { legend: { display: false }, tooltip: { enabled: false } },
        scales: {
          x: { type: "linear", min: def.xr[0], max: def.xr[1], display: false },
          y: { type: "linear", min: -10 / KM, max: (def.h - 10) / KM, reverse: true, display: false },
        },
      },
      plugins: [decor(def)],
    } as any);
    return () => chart.destroy();
  }, [def]);
  return (
    <canvas
      ref={ref}
      width={def.w + 2 * PAD}
      height={def.h + 2 * PAD}
      style={{ position: "absolute", left: def.x - PAD, top: def.y - PAD, width: def.w + 2 * PAD, height: def.h + 2 * PAD }}
    />
  );
}

const sk = (x: number, y: number): [number, number] => [x + SKEW_X * (y - ORG_Y), y + SKEW_Y * (x - ORG_X)];

function Frame() {
  const rules: [number, number, number, number][] = [];
  for (const y of ROWS) { const p = sk(ORG_X, y), q = sk(1176, y); rules.push([p[0], p[1], q[0], q[1]]); }
  for (const x of [ORG_X, 85, ...COLS]) { const p = sk(x, ORG_Y), q = sk(x, 598); rules.push([p[0], p[1], q[0], q[1]]); }
  { const p = sk(1037, 107.5), q = sk(1176, 107.5); rules.push([p[0], p[1], q[0], q[1]]); }
  const heads: string[] = [];
  for (const y of ROWS.slice(0, 4)) for (const x of COLS.slice(0, 7)) {
    const [hx, hy] = sk(x, y);
    heads.push(`${hx - 3},${hy + 5} ${hx},${hy - 3} ${hx + 3},${hy + 5}`);
  }
  return (
    <svg width={1180} height={623} style={{ position: "absolute", left: 0, top: 0, pointerEvents: "none" }}>
      <line x1={6} y1={0} x2={6} y2={623} stroke={INK} strokeWidth={2.5} />
      <line x1={6} y1={601} x2={1180} y2={601} stroke="#9a9a9a" strokeWidth={1.5} />
      {rules.map((r, i) => (
        <line key={i} x1={r[0]} y1={r[1]} x2={r[2]} y2={r[3]} stroke={INK} strokeWidth={2} />
      ))}
      {heads.map((h, i) => (
        <polyline key={"h" + i} points={h} fill="none" stroke={INK} strokeWidth={1.4} />
      ))}
    </svg>
  );
}

export default function App() {
  return (
    <div style={{ position: "fixed", left: 0, top: 0, width: 1180, height: 623, background: "#fff", overflow: "hidden" }}>
      {panels.map((p, i) => (
        <PanelChart key={i} def={p} />
      ))}
      <Frame />
    </div>
  );
}
